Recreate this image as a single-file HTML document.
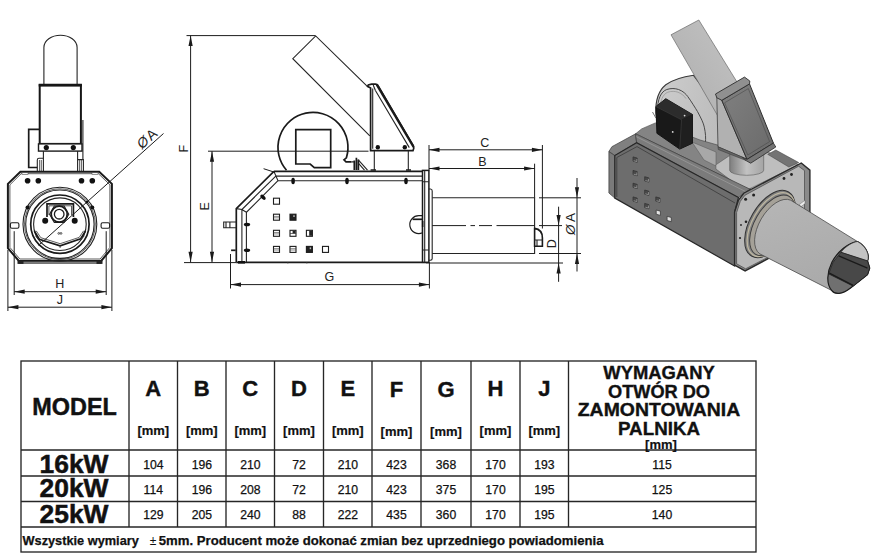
<!DOCTYPE html>
<html>
<head>
<meta charset="utf-8">
<title>Wymiary palnika</title>
<style>
html,body{margin:0;padding:0;background:#fff;}
body{width:879px;height:556px;overflow:hidden;font-family:"Liberation Sans",sans-serif;}
svg{position:absolute;left:0;top:0;display:block;}
text{font-family:"Liberation Sans",sans-serif;fill:#111;}
.b{font-weight:bold;}
.ln{stroke:#242424;stroke-width:1.1;fill:none;}
.th{stroke:#333;stroke-width:0.8;fill:none;}
.tk{stroke:#1a1a1a;stroke-width:1.7;fill:none;}
.dim{stroke:#1c1c1c;stroke-width:1;fill:none;}
.ar{fill:#1a1a1a;stroke:none;}
.lab{font-size:12.5px;fill:#222;}
</style>
</head>
<body>
<svg width="879" height="556" viewBox="0 0 879 556">
<rect x="0" y="0" width="879" height="556" fill="#ffffff"/>

<!-- ================= TABLE ================= -->
<g id="table">
<g stroke="#262626" stroke-width="1.35" fill="none">
<rect x="21" y="361" width="735" height="191"/>
<line x1="21" y1="450" x2="756" y2="450"/>
<line x1="21" y1="476" x2="756" y2="476"/>
<line x1="21" y1="501.5" x2="756" y2="501.5"/>
<line x1="21" y1="527" x2="756" y2="527"/>
<line x1="129" y1="361" x2="129" y2="527"/>
<line x1="177.5" y1="361" x2="177.5" y2="527"/>
<line x1="226" y1="361" x2="226" y2="527"/>
<line x1="274.5" y1="361" x2="274.5" y2="527"/>
<line x1="323.5" y1="361" x2="323.5" y2="527"/>
<line x1="372" y1="361" x2="372" y2="527"/>
<line x1="421" y1="361" x2="421" y2="527"/>
<line x1="471" y1="361" x2="471" y2="527"/>
<line x1="520" y1="361" x2="520" y2="527"/>
<line x1="568.5" y1="361" x2="568.5" y2="527"/>
</g>
<text class="b" x="74.6" y="414.8" font-size="23.5" text-anchor="middle" textLength="84.5" lengthAdjust="spacingAndGlyphs" stroke="#111" stroke-width="0.45">MODEL</text>
<g class="b" font-size="22" text-anchor="middle" stroke="#111" stroke-width="0.4">
<text x="153.3" y="395.6">A</text>
<text x="201.8" y="395.6">B</text>
<text x="250.3" y="395.6">C</text>
<text x="299" y="395.6">D</text>
<text x="347.8" y="395.6">E</text>
<text x="396.5" y="396.8">F</text>
<text x="446" y="396.8">G</text>
<text x="495.5" y="395.6">H</text>
<text x="544.3" y="395.6">J</text>
</g>
<g class="b" font-size="13" text-anchor="middle" stroke="#111" stroke-width="0.2">
<text x="153.3" y="434.8">[mm]</text>
<text x="201.8" y="434.8">[mm]</text>
<text x="250.3" y="434.8">[mm]</text>
<text x="299" y="434.8">[mm]</text>
<text x="347.8" y="434.8">[mm]</text>
<text x="396.5" y="436.3">[mm]</text>
<text x="446" y="436.3">[mm]</text>
<text x="495.5" y="434.8">[mm]</text>
<text x="544.3" y="434.8">[mm]</text>
</g>
<g class="b" font-size="26" text-anchor="middle" stroke="#111" stroke-width="0.5">
<text x="74" y="472.7" textLength="69" lengthAdjust="spacingAndGlyphs">16kW</text>
<text x="74" y="497.4" textLength="69" lengthAdjust="spacingAndGlyphs">20kW</text>
<text x="74" y="522.7" textLength="69" lengthAdjust="spacingAndGlyphs">25kW</text>
</g>
<g font-size="12.2" text-anchor="middle" fill="#111" stroke="#111" stroke-width="0.25">
<text x="153.3" y="468.5">104</text><text x="201.8" y="468.5">196</text><text x="250.3" y="468.5">210</text><text x="299" y="468.5">72</text><text x="347.8" y="468.5">210</text><text x="396.5" y="468.5">423</text><text x="446" y="468.5">368</text><text x="495.5" y="468.5">170</text><text x="544.3" y="468.5">193</text><text x="662" y="468.5">115</text>
<text x="153.3" y="494">114</text><text x="201.8" y="494">196</text><text x="250.3" y="494">208</text><text x="299" y="494">72</text><text x="347.8" y="494">210</text><text x="396.5" y="494">423</text><text x="446" y="494">375</text><text x="495.5" y="494">170</text><text x="544.3" y="494">195</text><text x="662" y="494">125</text>
<text x="153.3" y="519.3">129</text><text x="201.8" y="519.3">205</text><text x="250.3" y="519.3">240</text><text x="299" y="519.3">88</text><text x="347.8" y="519.3">222</text><text x="396.5" y="519.3">435</text><text x="446" y="519.3">360</text><text x="495.5" y="519.3">170</text><text x="544.3" y="519.3">195</text><text x="662" y="519.3">140</text>
</g>
<g class="b" font-size="17.5" text-anchor="middle" stroke="#111" stroke-width="0.35">
<text x="659" y="379" textLength="111.5" lengthAdjust="spacingAndGlyphs">WYMAGANY</text>
<text x="659" y="397.5" textLength="102" lengthAdjust="spacingAndGlyphs">OTWÓR DO</text>
<text x="659" y="416" textLength="162.5" lengthAdjust="spacingAndGlyphs">ZAMONTOWANIA</text>
<text x="659" y="435" textLength="82" lengthAdjust="spacingAndGlyphs">PALNIKA</text>
<text x="661" y="448.6" font-size="13" stroke-width="0.2">[mm]</text>
</g>
<g class="b" font-size="12.3" stroke="#111" stroke-width="0.25">
<text x="22.5" y="545" textLength="116.3" lengthAdjust="spacingAndGlyphs">Wszystkie wymiary</text>
<text x="158.8" y="545" textLength="444.7" lengthAdjust="spacingAndGlyphs">5mm. Producent może dokonać zmian bez uprzedniego powiadomienia</text>
</g>
<text x="149.8" y="544.6" font-size="12" fill="#222">±</text>
</g>

<!-- ================= FRONT VIEW ================= -->
<g id="front">
<!-- top tube -->
<path class="ln" d="M43.9,85 V47.5 A16.6,12.3 0 0 1 77.1,47.5 V85" stroke-width="1.2"/>
<!-- motor box -->
<rect x="39.7" y="85.2" width="41.2" height="58.7" fill="#fff" stroke="#161616" stroke-width="2"/><path d="M38.7,85.2 H81.9" stroke="#161616" stroke-width="2.8"/>
<rect x="38.5" y="143.9" width="43.5" height="7.2" fill="#fff" stroke="#1c1c1c" stroke-width="1.4"/>
<circle cx="46.3" cy="147.6" r="2.6" fill="#111"/><circle cx="73.3" cy="147.6" r="2.6" fill="#111"/>
<!-- right strip -->
<path class="ln" d="M82.9,120 V159.6"/>
<!-- side box -->
<path class="tk" d="M39.5,129.4 H28.7 V167.5 H37.3"/>

<!-- neck -->
<path class="ln" d="M43.4,151 V171.2 M77.6,151 V171.2"/>
<path class="ln" d="M37.3,171.2 V160 Q37.3,158.2 39,158.2 H43.4 M83.4,171.2 V159.6 H77.6"/>
<path class="th" d="M39.6,160 V171 M41.3,160 V171 M79.6,160 V171 M81.4,160 V171" stroke="#666"/>
<!-- body -->
<path d="M20.4,171.7 H99.2 L111.9,183.9 V248.2 L101.1,261 H18.9 L7.9,248.2 V183.9 Z" fill="#fff" stroke="#1a1a1a" stroke-width="2"/>
<path class="th" d="M21.2,173.7 H98.4 L109.9,184.8 V247.4 L100.1,259 H19.9 L9.9,247.4 V184.8 Z"/>
<path d="M18.9,261.6 H101.1 V263.4 H18.9 Z" fill="#888" stroke="#333" stroke-width="0.6"/>
<rect x="17.5" y="260.5" width="6" height="3.4" fill="#222"/><rect x="96.5" y="260.5" width="6" height="3.4" fill="#222"/>
<rect x="22" y="172.8" width="6" height="1.8" fill="#fff" stroke="#333" stroke-width="0.5"/><rect x="92" y="172.8" width="6" height="1.8" fill="#fff" stroke="#333" stroke-width="0.5"/>
<g fill="#111"><circle cx="27.6" cy="180.8" r="2.8"/><circle cx="38.3" cy="180.8" r="2.8"/><circle cx="81.5" cy="180.8" r="2.8"/><circle cx="92.3" cy="180.8" r="2.8"/></g>
<!-- slots -->
<rect x="10.4" y="222.7" width="8.5" height="5.6" rx="1.5" fill="#fff" stroke="#1c1c1c" stroke-width="1.1"/>
<rect x="101.1" y="222.7" width="8.5" height="5.6" rx="1.5" fill="#fff" stroke="#1c1c1c" stroke-width="1.1"/>
<!-- circles -->
<circle class="ln" cx="59.9" cy="224.2" r="36.9" stroke-width="1.2"/>
<circle class="th" cx="59.9" cy="224.2" r="35.4"/>
<circle class="ln" cx="59.9" cy="224.2" r="34.2"/>
<circle class="tk" cx="59.9" cy="224.2" r="29.2" stroke-width="2.2"/>
<circle class="ln" cx="59.9" cy="224.2" r="26.3"/>
<g fill="#111"><circle cx="27.5" cy="207.5" r="2"/><circle cx="92.3" cy="207.5" r="2"/></g>
<!-- inner bracket -->
<path class="tk" d="M47,217 V203.9 H73.4 V217" stroke-width="1.5"/>
<path class="th" d="M48.9,215 V205.8 H71.5 V215"/>
<path class="ln" d="M49.6,214.2 L54.3,206 H64.1 L68.8,214.2 L64.1,222.4 H54.3 Z" fill="#fff"/>
<circle class="tk" cx="59.2" cy="214.2" r="8" stroke-width="1.4"/>
<circle cx="59.2" cy="214.2" r="4.8" fill="#fff" stroke="#1c1c1c" stroke-width="1.3"/>
<g fill="#111"><circle cx="45.2" cy="220.8" r="3"/><circle cx="74.7" cy="220.8" r="3"/></g>
<!-- V shape -->
<path class="tk" d="M34.3,231 L39.3,239.3 L60.1,245.8 L80.6,238.9 L85.5,231" stroke-width="1.6"/>
<path class="th" d="M36.2,230.8 L40.8,237.7 L60.1,243.7 L79.2,237.4 L83.6,230.8"/>
<path class="th" d="M35.5,236.5 L39.3,239.3 M84.5,236 L80.6,238.9 M60.1,245.8 V248"/>
<circle class="th" cx="58.8" cy="233.4" r="0.9"/><circle class="th" cx="61" cy="233.4" r="0.9"/>
<!-- leader -->
<line class="dim" x1="163.5" y1="133.5" x2="38.6" y2="245.3"/>
<circle cx="87" cy="202" r="1.3" fill="#111"/>
<text class="lab" transform="translate(142,149.6) rotate(-42)" style="font-size:14px"><tspan font-style="italic">&#216;</tspan><tspan dx="1.5">A</tspan></text>
<!-- extension + dims -->
<path class="dim" d="M14.2,231.2 V295 M106.2,231.2 V295 M7.9,250 V311 M111.9,250 V311"/>
<line class="dim" x1="14.2" y1="291.7" x2="106.2" y2="291.7"/>
<path class="ar" d="M14.2,291.7 l10.5,-2.1 v4.2z M106.2,291.7 l-10.5,-2.1 v4.2z"/>
<line class="dim" x1="7.9" y1="307.2" x2="111.9" y2="307.2"/>
<path class="ar" d="M7.9,307.2 l10.5,-2.1 v4.2z M111.9,307.2 l-10.5,-2.1 v4.2z"/>
<text class="lab" x="59.8" y="288.3" text-anchor="middle">H</text>
<text class="lab" x="59.8" y="304" text-anchor="middle">J</text>
</g>

<!-- ================= SIDE VIEW ================= -->
<g id="side">
<!-- chute -->
<path class="ln" d="M366.8,85.8 L315.7,35.9 L292.8,58.7 L369.8,135.8" stroke-width="1.25"/>
<!-- fan housing -->
<path class="tk" d="M286.5,170.3 A35,35 0 1 1 346.4,157.8 L344,159.9 L346,161.9 H351.5" stroke-width="1.6"/>
<path class="tk" d="M295.8,129.6 H330.7 V167.7 H314.3 L310.2,164 H295.8 Z" fill="#fff" stroke-width="1.5"/>
<!-- small latch -->
<path class="tk" d="M354.3,170 V160.5 M356.4,170 V157.8 M358.4,170 V159.5" stroke-width="1.5"/>
<path class="ln" d="M351.5,161.9 H354.2 M358.3,159.9 L367.5,170.1 M358.3,163.2 L364.5,170.1"/>
<!-- bracket -->
<path d="M370.6,150.7 V88 L367.5,86.3 L368.3,84.9 L371.6,84.1 H375.5 Q377.2,84.1 378,85.6 L413.2,145.6 Q414.6,148 413,150.7 Z" fill="#fff" stroke="#1a1a1a" stroke-width="1.7"/>
<path d="M376.8,84.6 L413.6,147" stroke="#1a1a1a" stroke-width="2.4" fill="none"/>
<path class="ln" d="M372.7,148.8 V88.5 M375.4,90.5 L409.3,147.6"/>
<path class="ln" d="M373.2,85 L375.4,90.5" />
<circle cx="377.8" cy="147.3" r="2.2" fill="#111"/><circle cx="404.8" cy="147.3" r="2.2" fill="#111"/>
<path class="ln" d="M374.3,150.7 V170.3 M408.3,150.7 V170.3"/>
<path class="tk" d="M370.6,170 H376 M406,170 H411" stroke-width="1.5"/>
<!-- body -->
<path d="M273.9,171.4 H422.5 V262.3 H236.3 V208.6 Z" fill="#fff" stroke="none"/>
<path class="tk" d="M273.9,171.4 H422.5" stroke-width="1.4"/>
<path class="ln" d="M275.8,176.1 H422.5 M278,180.7 H422.5"/>
<path class="tk" d="M273.9,171.4 L236.3,208.6 V262.3" stroke-width="1.4"/>
<path class="ln" d="M275.8,176.1 L241.9,209.5 V262 M278,180.7 L246.4,212.3 V262 M236.3,208.6 L241.9,209.5 L246.4,212.3 M273.9,171.4 L278,180.7"/>
<path class="dim" d="M263.6,168.7 L275,172.4"/>
<path class="tk" d="M236.3,262.3 H426" stroke-width="2"/>
<rect x="238" y="261" width="7" height="2.6" fill="#111"/>
<!-- stub + tab -->
<path class="ln" d="M236.3,222 H223.7 V227.8 H236.3 M229.9,222 V227.8 M226,222 V227.8"/>
<path class="tk" d="M231.1,250.3 H235.7" stroke-width="1.4"/>
<!-- bolts -->
<g fill="#111">
<ellipse cx="293.1" cy="181" rx="1.8" ry="3.2"/><ellipse cx="347" cy="181" rx="1.8" ry="3.2"/><ellipse cx="406" cy="181" rx="1.8" ry="3.2"/>
<ellipse cx="263" cy="197.2" rx="1.8" ry="3.2" transform="rotate(-45 263 197.2)"/>
<ellipse cx="247" cy="224.5" rx="3.2" ry="1.8"/><ellipse cx="247" cy="250.3" rx="3.2" ry="1.8"/>
</g>
<rect x="273.5" y="198.2" width="6" height="6" fill="#fff" stroke="#1c1c1c" stroke-width="1.1"/>
<rect x="273.5" y="214.2" width="6" height="6" fill="#fff" stroke="#1c1c1c" stroke-width="1.1"/><path d="M273.5,216.39999999999998 h6 M273.5,217.79999999999998 h6" stroke="#444" stroke-width="0.6"/>
<rect x="290" y="214.2" width="6" height="6" fill="#222" stroke="#1c1c1c" stroke-width="1.1"/><rect x="293.3" y="215.2" width="1.4" height="1.8" fill="#bbb"/>
<rect x="273.5" y="230.3" width="6" height="6" fill="#fff" stroke="#1c1c1c" stroke-width="1.1"/><path d="M273.5,232.5 h6 M273.5,233.9 h6" stroke="#444" stroke-width="0.6"/>
<rect x="290" y="230.3" width="6" height="6" fill="#fff" stroke="#1c1c1c" stroke-width="1.1"/><rect x="292.6" y="230.8" width="3" height="2.6" fill="#222"/><path d="M290,233.5 h6" stroke="#333" stroke-width="0.7"/>
<rect x="306.4" y="230.3" width="6" height="6" fill="#fff" stroke="#1c1c1c" stroke-width="1.1"/><rect x="309.2" y="230.8" width="2.8" height="5" fill="#222"/>
<rect x="273.5" y="246.4" width="6" height="6" fill="#fff" stroke="#1c1c1c" stroke-width="1.1"/><path d="M273.5,248.6 h6 M273.5,250.0 h6" stroke="#444" stroke-width="0.6"/>
<rect x="290" y="246.4" width="6" height="6" fill="#fff" stroke="#1c1c1c" stroke-width="1.1"/><path d="M290,248.6 h6 M290,250.0 h6" stroke="#444" stroke-width="0.6"/>
<rect x="306.4" y="246.4" width="6" height="6" fill="#222" stroke="#1c1c1c" stroke-width="1.1"/><rect x="309.7" y="247.4" width="1.4" height="1.8" fill="#bbb"/>
<rect x="322.5" y="246.4" width="6" height="6" fill="#fff" stroke="#1c1c1c" stroke-width="1.1"/>
<path class="th" d="M287,262.8 h1.5 M306,262.8 h1.5" stroke-width="1.6"/>
<!-- D-shape -->
<path d="M422.5,215.6 H419 A9,9 0 1 0 422.5,232.8 Z" fill="#fff" stroke="#1c1c1c" stroke-width="1.2"/>
<path class="tk" d="M412.6,219.3 H422.5" stroke-width="1.6"/>
<!-- flange -->
<rect x="422.5" y="170.4" width="6.4" height="91.9" fill="#fff" stroke="#1a1a1a" stroke-width="1.5"/>
<path class="ln" d="M424.7,170.4 V262.3 M422.5,181.7 H428.7 M422.5,250 H428.7"/>
<path class="ln" d="M428.7,189 H430.5 Q432.2,189 432.2,191 V258.5 Q432.2,260.2 430.5,260.2 H428.7"/>
<rect x="421.9" y="221" width="1.5" height="6" fill="#111"/>
<!-- tube -->
<path class="ln" d="M432.2,197.8 H534.6 V253.5 H432.2"/>
<path class="dim" d="M432.2,225.6 H466 M470.5,225.6 H475 M479,225.6 H492 M496.5,225.6 H534.6"/>
<!-- end cap -->
<path d="M534.6,228.4 Q542.4,229.5 542.4,238 V246.2 H534.6 Z" fill="#fff" stroke="#1a1a1a" stroke-width="1.6"/>
<path class="ln" d="M534.6,240 H542.4 M537,240 V246.2"/>
<!-- dimension F -->
<path class="dim" d="M186.5,35.6 H315.5 M190.6,35.6 V262.3 M184,262.6 H236.3"/>
<path class="ar" d="M190.6,35.6 l-2.1,10.5 h4.2z M190.6,262.3 l-2.1,-10.5 h4.2z"/>
<text class="lab" transform="translate(188,152.5) rotate(-90)">F</text>
<!-- dimension E -->
<path class="dim" d="M208,151.2 H368.5 M212,151.2 V262.3"/>
<path class="ar" d="M212,151.2 l-2.1,10.5 h4.2z M212,262.3 l-2.1,-10.5 h4.2z"/>
<text class="lab" transform="translate(209.3,210.5) rotate(-90)">E</text>
<!-- dimension G -->
<path class="dim" d="M230.5,254 V288.5 M429.4,262.3 V288.5 M230.5,284.6 H429.4"/>
<path class="ar" d="M230.5,284.6 l10.5,-2.1 v4.2z M429.4,284.6 l-10.5,-2.1 v4.2z"/>
<text class="lab" x="329.4" y="281.4" text-anchor="middle">G</text>
<!-- dimension C / B -->
<path class="dim" d="M429,145 V170.4 M542.4,145 V228.5 M429,149.8 H542.4 M429,168.5 H534.6 M534.6,163.7 V197.8"/>
<path class="ar" d="M429,149.8 l10.5,-2.1 v4.2z M542.4,149.8 l-10.5,-2.1 v4.2z M429,168.5 l10.5,-2.1 v4.2z M534.6,168.5 l-10.5,-2.1 v4.2z"/>
<text class="lab" x="484.8" y="146.8" text-anchor="middle">C</text>
<text class="lab" x="482.5" y="165.6" text-anchor="middle">B</text>
<!-- dimension OA -->
<path class="dim" d="M539,197.8 H581 M539,253.5 H581 M577,178 V271.5"/>
<path class="ar" d="M577,197.8 l-2.1,-10.5 h4.2z M577,253.5 l-2.1,10.5 h4.2z"/>
<text class="lab" transform="translate(575,235) rotate(-90)" style="font-size:13.5px"><tspan font-style="italic">&#216;</tspan><tspan dx="2.5">A</tspan></text>
<!-- dimension D -->
<path class="dim" d="M539,225.6 H562 M426,263 H563 M558.6,206.7 V281.8"/>
<path class="ar" d="M558.6,225.6 l-2.1,-10.5 h4.2z M558.6,263 l-2.1,10.5 h4.2z"/>
<text class="lab" transform="translate(555.5,248.3) rotate(-90)">D</text>
</g>

<!-- ================= ISO VIEW ================= -->
<g id="iso">
<defs>
<linearGradient id="gTube" x1="0" y1="0" x2="0.4" y2="1"><stop offset="0" stop-color="#b6b6b6"/><stop offset="0.5" stop-color="#b0b0b0"/><stop offset="1" stop-color="#aaaaaa"/></linearGradient>
<linearGradient id="gChute" x1="0" y1="1" x2="1" y2="0"><stop offset="0" stop-color="#adadad"/><stop offset="1" stop-color="#c3c3c3"/></linearGradient>
<linearGradient id="gFan" x1="0" y1="0" x2="1" y2="0.3"><stop offset="0" stop-color="#cdcdcd"/><stop offset="1" stop-color="#bcbcbc"/></linearGradient>
<linearGradient id="gNeck" x1="0" y1="0" x2="1" y2="0"><stop offset="0" stop-color="#7e7e7e"/><stop offset="0.5" stop-color="#c2c2c2"/><stop offset="1" stop-color="#a4a4a4"/></linearGradient>
<linearGradient id="gHop" x1="0" y1="0" x2="1" y2="1"><stop offset="0" stop-color="#808080"/><stop offset="1" stop-color="#6a6a6a"/></linearGradient>
</defs>
<!-- fan housing -->
<path d="M655.8,113 C655.4,100 658,91 665.8,84.7 C672,80.5 681,77 693.5,75.3 L726,118 L718,168 L664,168 Z" fill="url(#gFan)" stroke="#3a3a3a" stroke-width="1.1"/>
<path d="M657.2,112 C657.5,99 661,91.5 666.8,89.5 C671,88.1 675,88.3 678.6,89.5 C683,91.1 686,94 687.8,96.6 C692,102.5 695,107.5 697.4,111.4 C701,118 703.5,123 704.3,127.2 C705.6,133 705.9,138 705.4,143.1 C705.2,150 704.6,156 703.6,164" fill="none" stroke="#484848" stroke-width="1"/>
<path d="M659.6,112 C659.9,100.5 663,94 667.8,92.2 C671.5,91 675,91.2 678,92.2 C682,93.8 684.5,96.2 686,98.6" fill="none" stroke="#909090" stroke-width="0.7"/>
<!-- chute -->
<path d="M671,34.8 L698.8,20 L737,82 L719,118 Z" fill="url(#gChute)" stroke="#686868" stroke-width="0.7"/>
<!-- body top plate (dark) -->
<path d="M635.6,133.8 L641.6,128.9 L655.4,122.9 L700,140 L770,160 L750,189.2 Z" fill="#848484" stroke="#444" stroke-width="0.6"/>
<!-- structures between box & hopper -->
<path d="M692,142 L716,152 L716,166 L704,160 Z" fill="#a8a8a8" stroke="#555" stroke-width="0.5"/>
<!-- recessed light top near front -->
<path d="M715.9,164.8 L728.9,156 L767.7,152 L798.5,164.8 L745,191 L715.9,169 Z" fill="#bebebe" stroke="#555" stroke-width="0.6"/>
<path d="M767.7,154.3 L775.8,150 L798.8,162.6 L788.8,167 Z" fill="#747474" stroke="#3a3a3a" stroke-width="0.5"/>
<!-- neck cylinder -->
<path d="M729.7,150 V170.3 A17,5 0 0 0 763.7,170.3 V150 Z" fill="url(#gNeck)" stroke="#5a5a5a" stroke-width="0.6"/>
<!-- hopper -->
<path d="M716.8,96.5 L721.8,100.3 L747,159.4 L741.9,157 L718,146.8 Z" fill="#b1b1b1" stroke="#3c3c3c" stroke-width="0.8"/>
<path d="M721.8,100.3 L749.5,83.9 L773.4,143.1 L747,159.4 Z" fill="url(#gHop)" stroke="#2e2e2e" stroke-width="1"/>
<path d="M724.6,102.8 L748.3,88.6 L769.6,141.6 L747.8,155 Z" fill="none" stroke="#4a4a4a" stroke-width="0.6"/>
<path d="M747,159.4 L773.4,143.1 L775.8,147 L750.7,163.2 L745.9,160.5 L741.9,157 Z" fill="#757575" stroke="#2a2a2a" stroke-width="0.8"/>
<path d="M715.5,94 L744.5,77.1 L749.8,81 L749.5,83.9 L721.8,100.3 L716.8,97.8 Z" fill="#909090" stroke="#2e2e2e" stroke-width="0.9"/>
<path d="M718,146.8 L741.9,157 L745.9,160.5 L718.3,149.5 Z" fill="#666" stroke="#333" stroke-width="0.5"/>
<!-- black box -->
<path d="M655.9,106.6 L665.8,98.7 L692.5,114.5 L692.5,143.2 L679.7,149.1 L656.9,133.3 Z" fill="#191919" stroke="#0c0c0c" stroke-width="0.9"/>
<path d="M655.9,106.6 L665.8,98.7 L692.5,114.5 L681.6,119.8 Z" fill="#2c2c2c"/>
<path d="M681.6,119.8 L692.5,114.5 L692.5,143.2 L679.7,149.1 Z" fill="#1f1f1f"/>
<path d="M655.9,106.6 L681.6,119.8 L679.7,149.1" fill="none" stroke="#404040" stroke-width="0.6"/>
<circle cx="684.6" cy="115.6" r="0.9" fill="#ddd"/><circle cx="672.7" cy="131.9" r="0.9" fill="#ddd"/>
<path d="M652.5,112 L655.9,118" stroke="#555" stroke-width="0.8"/>
<!-- body: end strip, sloped end, chamfer strip, side -->
<path d="M608.9,151.6 L611.9,146.7 L635.6,133.8 L636.6,142.7 L614.8,155.6 Z" fill="#808080" stroke="#3a3a3a" stroke-width="0.7"/>
<path d="M608.9,151.6 L614.8,155.6 L614.8,198.1 L608.9,193 Z" fill="#7a7a7a" stroke="#3a3a3a" stroke-width="0.7"/>
<path d="M635.6,133.8 L750,189.2 L738.5,197.5 L636.6,142.7 Z" fill="#7b7b7b" stroke="#3a3a3a" stroke-width="0.7"/>
<path d="M636.2,136.6 L746,191.8" stroke="#9a9a9a" stroke-width="0.8" fill="none"/>
<path d="M614.8,198.1 L614.8,155.6 L636.6,142.7 L738.5,197.5 L734.6,212 L734.6,266 Z" fill="#6d6d6d" stroke="#262626" stroke-width="1.2"/>
<path d="M616.8,197 L616.8,157.5 L637,146.6 L735,203" fill="none" stroke="#3a3a3a" stroke-width="0.8"/>
<path d="M633.0,156.9 l4.2,1.2 v4.2 l-4.2,-1.2z" fill="#4a4a4a" stroke="#2e2e2e" stroke-width="0.7"/>
<path d="M633.6,160.7 l3.2,0.9 v-2.6" fill="none" stroke="#b5b5b5" stroke-width="0.6"/>
<path d="M633.0,170.4 l4.2,1.2 v4.2 l-4.2,-1.2z" fill="#4a4a4a" stroke="#2e2e2e" stroke-width="0.7"/>
<path d="M633.6,174.2 l3.2,0.9 v-2.6" fill="none" stroke="#b5b5b5" stroke-width="0.6"/>
<path d="M644.6999999999999,176.70000000000002 l4.2,1.2 v4.2 l-4.2,-1.2z" fill="#4a4a4a" stroke="#2e2e2e" stroke-width="0.7"/>
<path d="M645.3,180.5 l3.2,0.9 v-2.6" fill="none" stroke="#b5b5b5" stroke-width="0.6"/>
<path d="M633.0,183.20000000000002 l4.2,1.2 v4.2 l-4.2,-1.2z" fill="#4a4a4a" stroke="#2e2e2e" stroke-width="0.7"/>
<path d="M633.6,187.0 l3.2,0.9 v-2.6" fill="none" stroke="#b5b5b5" stroke-width="0.6"/>
<path d="M644.6999999999999,190.0 l4.2,1.2 v4.2 l-4.2,-1.2z" fill="#4a4a4a" stroke="#2e2e2e" stroke-width="0.7"/>
<path d="M645.3,193.79999999999998 l3.2,0.9 v-2.6" fill="none" stroke="#b5b5b5" stroke-width="0.6"/>
<path d="M655.8,196.9 l4.2,1.2 v4.2 l-4.2,-1.2z" fill="#4a4a4a" stroke="#2e2e2e" stroke-width="0.7"/>
<path d="M656.4,200.7 l3.2,0.9 v-2.6" fill="none" stroke="#b5b5b5" stroke-width="0.6"/>
<path d="M633.0,196.9 l4.2,1.2 v4.2 l-4.2,-1.2z" fill="#4a4a4a" stroke="#2e2e2e" stroke-width="0.7"/>
<path d="M633.6,200.7 l3.2,0.9 v-2.6" fill="none" stroke="#b5b5b5" stroke-width="0.6"/>
<path d="M644.6999999999999,203.4 l4.2,1.2 v4.2 l-4.2,-1.2z" fill="#4a4a4a" stroke="#2e2e2e" stroke-width="0.7"/>
<path d="M645.3,207.2 l3.2,0.9 v-2.6" fill="none" stroke="#b5b5b5" stroke-width="0.6"/>
<path d="M656.1999999999999,210.0 l4.2,1.2 v4.2 l-4.2,-1.2z" fill="#e2e2e2" stroke="#2e2e2e" stroke-width="0.7"/>
<path d="M667.0999999999999,216.3 l4.2,1.2 v4.2 l-4.2,-1.2z" fill="#e2e2e2" stroke="#2e2e2e" stroke-width="0.7"/>
<!-- front plate -->
<path d="M734.6,212 L738.5,200 L743.7,193.2 L801.3,163 L809.9,170.2 L809.9,236.4 L745.1,270.9 L734.6,265.1 Z" fill="#8a8a8a" stroke="#2a2a2a" stroke-width="1.4"/>
<path d="M736.6,212.6 L740.3,201.3 L745,195.2 L798.6,166.2 L804.5,170.6 L804.5,238.6 L745.6,268.8 L736.6,263.8 Z" fill="#b8b8b8" stroke="#444" stroke-width="0.7"/>
<g fill="#222"><circle cx="745.6" cy="199.3" r="1.5"/><circle cx="753.6" cy="194.9" r="1.5"/><circle cx="784" cy="178.5" r="1.4"/><circle cx="791.5" cy="174.5" r="1.4"/><circle cx="746" cy="221.7" r="1.3"/><circle cx="740" cy="238" r="1.1"/><circle cx="741" cy="225" r="0.9"/></g>
<!-- ring -->
<ellipse cx="770" cy="224" rx="20" ry="37" fill="#7e7e7e" stroke="#333" stroke-width="1" transform="rotate(30 770 224)"/>
<ellipse cx="771" cy="224.6" rx="18.6" ry="35.2" fill="#858585" stroke="#bdb6a0" stroke-width="1.3" transform="rotate(30 771 224.6)"/>
<ellipse cx="772.4" cy="225.4" rx="17.8" ry="33.4" fill="#a5a198" stroke="#3c3c3c" stroke-width="0.9" transform="rotate(30 772.4 225.4)"/>
<path d="M799.5,204.3 L805,200.3 L805,203.6 L800.6,207 Z" fill="#ececec" stroke="#555" stroke-width="0.4"/>
<!-- tube -->
<path d="M790.7,200.2 L857.4,241.5 C866,246 870,255 867.5,261 L869.7,268.1 L867.5,274.6 L850.2,288.2 C842,294 835,295 831.6,290.4 L759.7,253.8 A17,31 30 0 1 790.7,200.2 Z" fill="url(#gTube)" stroke="#4a4a4a" stroke-width="0.8"/>
<!-- tube end -->
<path d="M857.4,241.5 C866,246 870,255 867.5,261 L869.7,268.1 L867.5,274.6 L850.2,288.2 C842,294.5 835,295 831.6,290.4 C826,284 827,272 832,262 C838,251 848,243 857.4,241.5 Z" fill="#707070" stroke="#1c1c1c" stroke-width="1.2"/>
<path d="M857.4,241.5 C866,246 870,255 867.5,261 L840.9,252.3 C846,246 852,242.5 857.4,241.5 Z" fill="#c3c3c3" stroke="#222" stroke-width="0.6"/>
<path d="M833,262.4 L840.9,252.3 L867.5,260.9 L869.7,268.1 L867.5,274.6 L853.1,286.1 L828.7,273.9 Z" fill="#484848" stroke="#1c1c1c" stroke-width="0.7"/>
<path d="M838.7,255.9 L867.5,268.1 M829.4,273.2 L853.1,285.4" stroke="#1a1a1a" stroke-width="1.3" fill="none"/>
</g>
</svg>
</body>
</html>
